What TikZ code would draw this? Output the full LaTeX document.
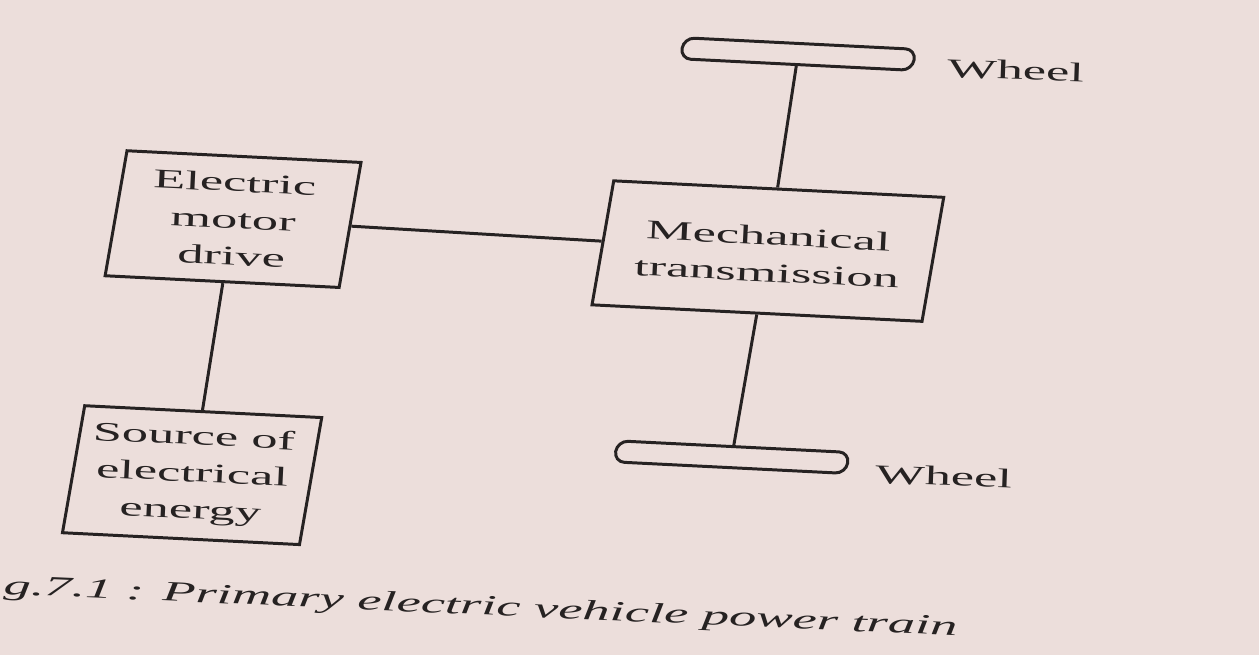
\documentclass[tikz,border=0pt]{standalone}
\usepackage{fontspec}
\setmainfont{Liberation Serif}[FakeStretch=1.95]
\usetikzlibrary{shapes.misc}
\definecolor{paper}{RGB}{236,222,219}
\definecolor{ink}{RGB}{38,34,34}
\tikzset{
  boxshape/.style={draw=ink, line width=1.7pt, transform shape},
  wheelshape/.style={draw=ink, line width=1.7pt, rounded rectangle, transform shape,
    minimum width=4.64cm, minimum height=0.42cm, inner sep=0pt},
  lbl/.style={align=center, text=ink, font=\fontsize{15.3}{21}\selectfont, inner sep=0pt, rotate=-2.8},
  conn/.style={draw=ink, line width=1.7pt},
}
\begin{document}
\begin{tikzpicture}
\useasboundingbox[fill=paper] (0,0) rectangle (25.18,-13.1);
\begin{scope}[x=0.02cm,y=0.02cm,cm={1,-0.05,0.175,1,(0,0)}]
  \node[boxshape, minimum width=4.68cm, minimum height=2.5cm] (emd) at (269,-205.6) {};
  \node[boxshape, minimum width=6.6cm, minimum height=2.48cm] (mt) at (804.6,-210.8) {};
  \node[boxshape, minimum width=4.74cm, minimum height=2.54cm] (src) at (272.8,-461.4) {};
  \node[wheelshape] (w1) at (800.4,-14) {};
  \node[wheelshape] (w2) at (804.5,-416.8) {};
  \node[lbl] (emdt) at (emd.center) {Electric\\motor\\drive};
  \node[lbl] (mtt) at ([yshift=-0.06cm]mt.center) {Mechanical\\transmission};
  \node[lbl] (srct) at (src.center) {Source of\\electrical\\energy};
\end{scope}
\draw[conn] (w1) -- (mt);
\draw[conn] (mt) -- (w2);
\draw[conn] (emd) -- (mt);
\draw[conn] (emd) -- (src);
\node[lbl, anchor=west, rotate=0.8] (wl1) at (18.94,-1.36) {Wheel};
\node[lbl, anchor=west, rotate=0.8] (wl2) at (17.5,-9.48) {Wheel};
\node[lbl, anchor=base west, rotate=0.3, font=\fontsize{15.9}{21}\selectfont\itshape] (cap) at (0.06,-11.88) {g.7.1 : Primary electric vehicle power train};
\end{tikzpicture}
\end{document}
